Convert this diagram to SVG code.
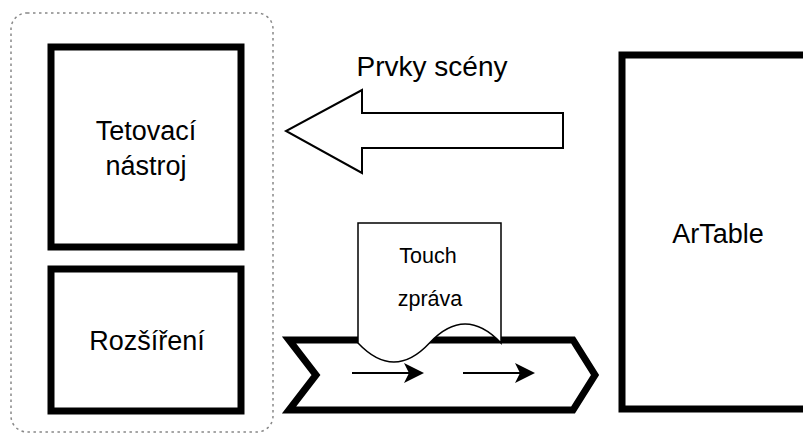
<svg xmlns="http://www.w3.org/2000/svg" width="803" height="435" viewBox="0 0 803 435">
  <style>
    .box { fill: #ffffff; stroke: #000000; stroke-width: 7; }
    .label { font-family: "Liberation Sans", Arial, Helvetica, sans-serif; font-size: 27px; fill: #000000; text-anchor: middle; }
    .small { font-size: 21.5px; }
    .thin { fill: #ffffff; stroke: #000000; stroke-width: 2; }
  </style>
  <defs>
    <marker id="arrowhead" viewBox="0 0 20 20" refX="18" refY="10" markerWidth="20" markerHeight="20" markerUnits="userSpaceOnUse" orient="auto">
      <path d="M0,0 L20,10 L0,20 L5,10 Z" fill="#000000"/>
    </marker>
  </defs>
  <rect width="803" height="435" fill="#ffffff"/>

  <!-- dashed container around the tool and its extension -->
  <g id="container">
    <rect x="11" y="13" width="262" height="419" rx="16" ry="16" fill="none" stroke="#888888" stroke-width="1.5" stroke-dasharray="2.5 3.5"/>
  </g>

  <g id="tetovaci-nastroj">
    <rect class="box" x="51" y="47" width="190" height="200"/>
    <text class="label" x="146" y="140">Tetovací</text>
    <text class="label" x="146" y="175">nástroj</text>
  </g>

  <g id="rozsireni">
    <rect class="box" x="51" y="269" width="190" height="142"/>
    <text class="label" x="147" y="350">Rozšíření</text>
  </g>

  <g id="artable">
    <rect class="box" x="622" y="55" width="192" height="354"/>
    <text class="label" x="718" y="243">ArTable</text>
  </g>

  <g id="connectors">
    <!-- hollow arrow: scene elements -->
    <g id="prvky-sceny">
      <path class="thin" d="M563,113 L362,113 L362,90 L286,131 L362,173 L362,148 L563,148 Z" stroke-linejoin="miter"/>
      <text class="label" x="432" y="76" style="font-size:28px">Prvky scény</text>
    </g>
    <!-- message channel -->
    <g id="kanal">
      <path d="M289,340 L573,340 L595,375 L573,410 L289,410 L316,375 Z" fill="#ffffff" stroke="#000000" stroke-width="7" stroke-linejoin="miter"/>
      <line x1="352" y1="373" x2="422" y2="373" stroke="#000000" stroke-width="2" marker-end="url(#arrowhead)"/>
      <line x1="463" y1="373" x2="533" y2="373" stroke="#000000" stroke-width="2" marker-end="url(#arrowhead)"/>
    </g>
  </g>

  <g id="touch-zprava">
    <path d="M358,223 L501,223 L501,343 Q465,305 429.5,343 Q394,381 358,343 Z" fill="#ffffff" stroke="#000000" stroke-width="1.5"/>
    <text class="label small" x="428" y="263">Touch</text>
    <text class="label small" x="430" y="306">zpráva</text>
  </g>
</svg>
